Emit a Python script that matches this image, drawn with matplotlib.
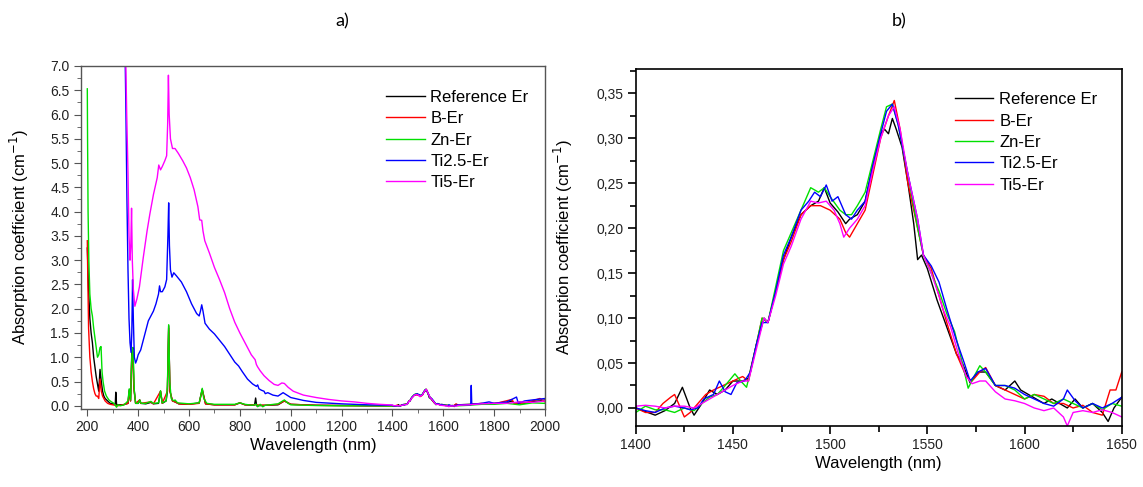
import numpy as np
import matplotlib
matplotlib.use("Agg")
import matplotlib.pyplot as plt
from matplotlib.ticker import MultipleLocator, FuncFormatter

plt.rcParams['font.family'] = ['Liberation Sans', 'DejaVu Sans']

labels = ["Reference Er", "B-Er", "Zn-Er", "Ti2.5-Er", "Ti5-Er"]
colors = ["#000000", "#ff0000", "#00e000", "#0000ff", "#ff00ff"]

# ---- panel a) : 200-1400 nm part of the spectra ----
ref_uv_x = [200, 202, 205, 210, 215, 220, 225, 230, 235, 240, 245, 250, 255, 260, 265, 270, 280, 290,
            300, 310, 312, 315, 320, 340, 360, 365, 370, 375, 379, 383, 390, 400, 406, 410, 430, 450,
            460, 480, 488, 495, 510, 515, 520, 525, 535, 545, 560, 600, 640, 652, 665, 700, 780, 800,
            820, 850, 858, 862, 866, 900, 950, 975, 1000, 1100, 1200, 1300, 1400]
ref_uv_y = [3.25, 2.9, 2.4, 1.8, 1.5, 1.3, 1.0, 0.8, 0.6, 0.45, 0.3, 0.75, 0.5, 0.3, 0.2, 0.15, 0.1, 0.05,
            0.04, 0.03, 0.28, 0.03, 0.02, 0.02, 0.05, 0.33, 0.1, 1.1, 1.2, 0.4, 0.05, 0.05, 0.12, 0.05, 0.04, 0.07,
            0.04, 0.05, 0.3, 0.05, 0.1, 0.3, 1.65, 0.3, 0.1, 0.08, 0.04, 0.03, 0.06, 0.34, 0.04, 0.02, 0.02, 0.06,
            0.02, 0.01, 0.02, 0.16, 0.0, 0.01, 0.02, 0.1, 0.03, 0.01, 0.005, 0.0, 0.0]

b_uv_x = [200, 202, 205, 210, 215, 220, 225, 230, 235, 240, 245, 250, 255, 260, 270, 280, 290, 300, 320,
          340, 360, 365, 370, 375, 379, 383, 390, 406, 410, 450, 460, 488, 495, 515, 520, 525, 535, 545,
          560, 600, 640, 652, 665, 700, 780, 800, 820, 860, 900, 950, 975, 1000, 1100, 1200, 1300, 1400]
b_uv_y = [3.4, 2.6, 1.6, 1.0, 0.7, 0.5, 0.35, 0.25, 0.2, 0.2, 0.15, 0.55, 0.3, 0.2, 0.1, 0.05, 0.03, 0.02, 0.0,
          0.02, 0.05, 0.3, 0.1, 1.0, 1.1, 0.35, 0.05, 0.12, 0.05, 0.08, 0.04, 0.3, 0.05, 0.3, 1.6, 0.3, 0.1, 0.08,
          0.04, 0.03, 0.05, 0.33, 0.04, 0.02, 0.02, 0.06, 0.02, 0.02, 0.01, 0.03, 0.1, 0.03, 0.01, 0.005, 0.0, 0.0]

zn_uv_x = [200, 201, 203, 206, 210, 215, 220, 225, 230, 235, 240, 245, 250, 254, 258, 262, 268, 275, 285,
           295, 305, 315, 320, 330, 345, 360, 365, 370, 375, 378, 381, 385, 390, 400, 406, 412, 430, 450,
           460, 480, 488, 494, 510, 515, 520, 524, 530, 540, 545, 555, 600, 640, 646, 652, 658, 670, 700,
           780, 800, 820, 850, 865, 870, 880, 890, 900, 950, 975, 990, 1000, 1100, 1200, 1300, 1400]
zn_uv_y = [6.53, 5.5, 4.0, 3.0, 2.3, 2.0, 1.85, 1.6, 1.4, 1.2, 1.0, 1.05, 1.2, 1.22, 0.7, 0.5, 0.3, 0.2, 0.12,
           0.08, 0.05, -0.03, 0.02, 0.0, 0.02, 0.1, 0.35, 0.12, 1.0, 1.2, 1.0, 0.3, 0.05, 0.05, 0.12, 0.05, 0.05, 0.09,
           0.05, 0.06, 0.31, 0.06, 0.1, 0.4, 1.67, 0.5, 0.15, 0.1, 0.12, 0.06, 0.04, 0.06, 0.2, 0.36, 0.15, 0.05, 0.03,
           0.03, 0.06, 0.03, 0.01, 0.03, -0.02, 0.03, -0.02, 0.01, 0.04, 0.12, 0.05, 0.02, 0.005, 0.0, 0.0, -0.005]

ti25_uv_x = [340, 348, 352, 356, 360, 364, 368, 372, 375, 378, 381, 385, 390, 395, 400, 410, 420, 430, 440,
             450, 460, 470, 480, 484, 488, 495, 505, 512, 517, 520, 523, 527, 533, 540, 550, 570, 590, 610,
             630, 640, 645, 650, 655, 663, 680, 700, 720, 740, 760, 780, 795, 810, 830, 850, 865, 870, 875,
             885, 895, 900, 910, 930, 950, 970, 985, 1000, 1050, 1100, 1200, 1300, 1400]
ti25_uv_y = [9.0, 7.5, 6.0, 4.2, 2.8, 1.8, 1.3, 1.1, 1.5, 2.6, 1.8, 1.0, 0.88, 0.95, 1.05, 1.15, 1.35, 1.55, 1.75,
             1.85, 1.95, 2.1, 2.3, 2.47, 2.35, 2.35, 2.45, 2.6, 3.5, 4.18, 3.3, 2.8, 2.65, 2.74, 2.68, 2.55, 2.35, 2.1,
             1.9, 1.85, 1.95, 2.08, 1.95, 1.7, 1.58, 1.48, 1.35, 1.22, 1.06, 0.9, 0.82, 0.7, 0.55, 0.45, 0.4, 0.43, 0.35,
             0.32, 0.3, 0.25, 0.27, 0.22, 0.2, 0.27, 0.22, 0.17, 0.11, 0.07, 0.04, 0.02, 0.01]

ti5_uv_x = [340, 350, 355, 360, 364, 368, 371, 374, 377, 381, 387, 395, 405, 420, 435, 446, 460, 475, 481,
            488, 495, 505, 512, 516, 519, 522, 527, 535, 545, 558, 575, 590, 605, 620, 635, 642, 650, 655,
            662, 680, 700, 720, 740, 760, 780, 800, 825, 845, 860, 865, 870, 880, 895, 915, 935, 950, 965,
            975, 990, 1010, 1050, 1100, 1150, 1200, 1250, 1300, 1350, 1400]
ti5_uv_y = [9.0, 7.5, 6.0, 4.8, 3.5, 3.0, 3.3, 4.07, 3.0, 2.4, 2.05, 2.2, 2.45, 3.05, 3.6, 3.95, 4.35, 4.7, 4.96,
            4.86, 4.93, 5.05, 5.15, 5.8, 6.81, 6.0, 5.5, 5.3, 5.3, 5.2, 5.05, 4.9, 4.7, 4.45, 4.1, 3.83, 3.82, 3.6,
            3.4, 3.15, 2.85, 2.6, 2.33, 2.0, 1.72, 1.5, 1.25, 1.05, 0.95, 0.85, 0.8, 0.72, 0.62, 0.52, 0.44, 0.42, 0.47,
            0.46, 0.38, 0.3, 0.22, 0.17, 0.13, 0.1, 0.08, 0.05, 0.03, 0.015]

# ---- 1650-2000 nm tail (panel a) ----
ref_ir_x = [1660, 1700, 1750, 1800, 1850, 1870, 1880, 1900, 1920, 1950, 1980, 2000]
ref_ir_y = [0.02, 0.03, 0.04, 0.05, 0.06, 0.1, 0.05, 0.08, 0.05, 0.09, 0.1, 0.12]
b_ir_x = [1660, 1700, 1750, 1780, 1800, 1870, 1880, 1920, 1950, 1980, 2000]
b_ir_y = [0.01, 0.02, 0.05, 0.03, 0.04, 0.13, 0.04, 0.06, 0.1, 0.15, 0.08]
zn_ir_x = [1660, 1700, 1750, 1800, 1850, 1900, 1950, 2000]
zn_ir_y = [0.0, 0.01, 0.03, 0.03, 0.05, 0.02, 0.06, 0.05]
ti25_ir_x = [1660, 1700, 1708, 1710, 1712, 1750, 1780, 1800, 1850, 1888, 1895, 1920, 1950, 2000]
ti25_ir_y = [0.02, 0.02, 0.02, 0.42, 0.03, 0.05, 0.08, 0.05, 0.08, 0.18, 0.05, 0.1, 0.12, 0.15]
ti5_ir_x = [1660, 1700, 1750, 1800, 1850, 1900, 1950, 2000]
ti5_ir_y = [0.01, 0.02, 0.04, 0.05, 0.05, 0.08, 0.07, 0.1]

# ---- panel b) : Er band 1400-1650 nm ----
ref_x = [1400, 1405, 1410, 1415, 1420, 1424, 1428, 1430, 1434, 1438, 1442, 1446, 1450, 1455, 1458, 1462,
         1466, 1468, 1472, 1476, 1480, 1485, 1490, 1494, 1497, 1500, 1504, 1508, 1510, 1514, 1518, 1522,
         1526, 1528, 1530, 1532, 1534, 1537, 1540, 1543, 1545, 1547, 1550, 1555, 1560, 1565, 1568, 1572,
         1576, 1580, 1585, 1590, 1595, 1598, 1602, 1606, 1610, 1614, 1618, 1622, 1626, 1630, 1635, 1640,
         1643, 1646, 1650]
ref_y = [0.0, -0.004, -0.008, -0.003, 0.005, 0.023, 0.0, -0.008, 0.005, 0.02, 0.015, 0.02, 0.03, 0.03, 0.033, 0.07,
         0.10, 0.095, 0.13, 0.165, 0.19, 0.215, 0.225, 0.23, 0.245, 0.228, 0.218, 0.205, 0.21, 0.215, 0.23, 0.27,
         0.305, 0.31, 0.305, 0.322, 0.31, 0.29, 0.25, 0.205, 0.165, 0.17, 0.155, 0.12, 0.09, 0.06, 0.05, 0.028,
         0.04, 0.04, 0.025, 0.02, 0.03, 0.02, 0.015, 0.01, 0.005, 0.01, 0.005, 0.0, 0.01, 0.0, 0.005, -0.005,
         -0.015, 0.0, 0.012]

b_x = [1400, 1405, 1410, 1414, 1418, 1420, 1422, 1425, 1428, 1432, 1436, 1440, 1445, 1450, 1455, 1458, 1462,
       1465, 1468, 1472, 1476, 1480, 1485, 1490, 1495, 1500, 1505, 1508, 1510, 1514, 1518, 1522, 1526, 1530,
       1533, 1536, 1540, 1545, 1548, 1552, 1556, 1560, 1565, 1570, 1573, 1577, 1580, 1585, 1590, 1595, 1600,
       1605, 1610, 1615, 1620, 1625, 1630, 1635, 1640, 1644, 1647, 1650]
b_y = [0.0, -0.005, -0.005, 0.005, 0.012, 0.015, 0.005, -0.01, -0.005, 0.005, 0.015, 0.02, 0.025, 0.03, 0.035, 0.03, 0.07,
       0.10, 0.095, 0.13, 0.165, 0.185, 0.215, 0.225, 0.225, 0.22, 0.21, 0.195, 0.19, 0.205, 0.22, 0.26, 0.30, 0.325,
       0.342, 0.31, 0.25, 0.20, 0.17, 0.155, 0.125, 0.095, 0.06, 0.035, 0.03, 0.04, 0.045, 0.025, 0.02, 0.015, 0.01,
       0.015, 0.013, 0.005, 0.005, 0.0, 0.003, -0.005, -0.008, 0.02, 0.02, 0.04]

zn_x = [1400, 1405, 1410, 1415, 1420, 1425, 1430, 1434, 1438, 1442, 1446, 1451, 1454, 1457, 1460, 1465, 1468,
        1472, 1476, 1480, 1485, 1490, 1494, 1497, 1500, 1505, 1508, 1511, 1514, 1518, 1522, 1526, 1529, 1532,
        1535, 1540, 1545, 1548, 1552, 1556, 1560, 1564, 1568, 1571, 1574, 1577, 1580, 1585, 1590, 1595, 1600,
        1605, 1610, 1615, 1620, 1625, 1630, 1635, 1640, 1645, 1650]
zn_y = [-0.005, 0.002, -0.002, -0.002, -0.005, 0.0, -0.003, 0.005, 0.012, 0.015, 0.025, 0.038, 0.03, 0.023, 0.05, 0.10, 0.095,
        0.135, 0.175, 0.195, 0.22, 0.245, 0.24, 0.245, 0.235, 0.22, 0.215, 0.215, 0.225, 0.24, 0.275, 0.31, 0.335, 0.338,
        0.315, 0.26, 0.2, 0.17, 0.15, 0.13, 0.105, 0.085, 0.05, 0.022, 0.035, 0.047, 0.04, 0.025, 0.025, 0.02, 0.01,
        0.015, 0.01, 0.005, 0.01, 0.005, 0.0, 0.005, -0.002, 0.005, 0.002]

ti25_x = [1400, 1405, 1410, 1415, 1420, 1425, 1428, 1432, 1435, 1440, 1443, 1446, 1449, 1452, 1456, 1459, 1462,
          1465, 1468, 1472, 1476, 1480, 1485, 1489, 1492, 1495, 1498, 1501, 1504, 1508, 1511, 1514, 1518, 1522,
          1526, 1529, 1532, 1535, 1540, 1545, 1548, 1552, 1556, 1560, 1565, 1569, 1572, 1576, 1580, 1585, 1590,
          1595, 1600, 1605, 1610, 1615, 1620, 1622, 1626, 1630, 1635, 1640, 1645, 1650]
ti25_y = [0.0, -0.003, -0.005, 0.0, 0.002, 0.0, -0.002, 0.0, 0.01, 0.015, 0.03, 0.018, 0.015, 0.028, 0.03, 0.04, 0.07,
          0.095, 0.095, 0.13, 0.17, 0.19, 0.22, 0.23, 0.24, 0.235, 0.248, 0.23, 0.235, 0.215, 0.21, 0.22, 0.23, 0.27,
          0.305, 0.33, 0.338, 0.315, 0.26, 0.21, 0.17, 0.158, 0.14, 0.11, 0.075, 0.05, 0.03, 0.04, 0.044, 0.025, 0.025,
          0.022, 0.015, 0.01, 0.005, 0.002, 0.01, 0.02, 0.008, 0.0, 0.005, 0.0, 0.005, 0.012]

ti5_x = [1400, 1405, 1410, 1415, 1420, 1425, 1430, 1434, 1438, 1442, 1446, 1450, 1455, 1458, 1462, 1466, 1468,
         1472, 1476, 1480, 1485, 1490, 1494, 1498, 1502, 1505, 1507, 1510, 1514, 1518, 1522, 1526, 1530, 1533,
         1536, 1540, 1545, 1548, 1552, 1556, 1558, 1562, 1566, 1570, 1573, 1577, 1580, 1585, 1590, 1595, 1600,
         1605, 1610, 1615, 1620, 1622, 1625, 1630, 1635, 1640, 1645, 1650]
ti5_y = [0.002, 0.003, 0.002, 0.0, 0.002, 0.002, 0.0, 0.005, 0.01, 0.015, 0.02, 0.025, 0.03, 0.03, 0.065, 0.10, 0.095,
         0.125, 0.16, 0.18, 0.21, 0.23, 0.228, 0.23, 0.22, 0.205, 0.19, 0.2, 0.21, 0.225, 0.265, 0.30, 0.325, 0.335,
         0.31, 0.26, 0.21, 0.17, 0.15, 0.125, 0.11, 0.09, 0.06, 0.035, 0.027, 0.03, 0.03, 0.018, 0.01, 0.008, 0.005,
         0.0, -0.003, 0.0, -0.01, -0.02, -0.005, -0.003, -0.005, -0.002, -0.005, -0.01]

uv_x = [ref_uv_x, b_uv_x, zn_uv_x, ti25_uv_x, ti5_uv_x]
uv_y = [ref_uv_y, b_uv_y, zn_uv_y, ti25_uv_y, ti5_uv_y]
band_x = [ref_x, b_x, zn_x, ti25_x, ti5_x]
band_y = [ref_y, b_y, zn_y, ti25_y, ti5_y]
ir_x = [ref_ir_x, b_ir_x, zn_ir_x, ti25_ir_x, ti5_ir_x]
ir_y = [ref_ir_y, b_ir_y, zn_ir_y, ti25_ir_y, ti5_ir_y]

fig = plt.figure(figsize=(11.43, 4.87), dpi=100)
ax1 = fig.add_axes([0.0706, 0.1608, 0.4062, 0.7037])
ax2 = fig.add_axes([0.5562, 0.1259, 0.4252, 0.7324])

for i in range(5):
    x = np.concatenate([uv_x[i], band_x[i][1:], ir_x[i]])
    y = np.concatenate([uv_y[i], band_y[i][1:], ir_y[i]])
    ax1.plot(x, y, color=colors[i], lw=1.0, label=labels[i])
    ax2.plot(band_x[i], band_y[i], color=colors[i], lw=1.0, label=labels[i])

leg_kw = dict(loc="upper left", frameon=False, fontsize=12, borderpad=0, borderaxespad=0,
              handlelength=2.3, handletextpad=0.35, labelspacing=0.38)

# panel a axes
ax1.set_xlim(174, 2000)
ax1.set_ylim(-0.06, 7.0)
ax1.xaxis.set_major_locator(MultipleLocator(200))
ax1.xaxis.set_minor_locator(MultipleLocator(100))
ax1.yaxis.set_major_locator(MultipleLocator(0.5))
ax1.yaxis.set_minor_locator(MultipleLocator(0.25))
ax1.yaxis.set_major_formatter(FuncFormatter(lambda v, p: f"{v:.1f}"))
for s in ax1.spines.values():
    s.set_color("#555555")
    s.set_linewidth(1.0)
ax1.tick_params(which="both", direction="out", colors="#555555", labelcolor="#222222", labelsize=10)
ax1.tick_params(which="major", length=5, pad=3)
ax1.tick_params(which="minor", length=3)
ax1.set_xlabel("Wavelength (nm)", fontsize=12, labelpad=3)
ax1.set_ylabel("Absorption coefficient (cm$^{-1}$)", fontsize=12)
ax1.yaxis.set_label_coords(-0.107, 0.5)
ax1.legend(bbox_to_anchor=(0.658, 0.93), **leg_kw)

# panel b axes
ax2.set_xlim(1400, 1650)
ax2.set_ylim(-0.0197, 0.377)
ax2.xaxis.set_major_locator(MultipleLocator(50))
ax2.xaxis.set_minor_locator(MultipleLocator(25))
ax2.yaxis.set_major_locator(MultipleLocator(0.05))
ax2.yaxis.set_minor_locator(MultipleLocator(0.025))
ax2.yaxis.set_major_formatter(FuncFormatter(lambda v, p: f"{v:.2f}".replace(".", ",")))
for s in ax2.spines.values():
    s.set_color("#000000")
    s.set_linewidth(1.2)
ax2.tick_params(which="both", direction="out", labelcolor="#222222", labelsize=10, width=1.2)
ax2.tick_params(which="major", length=6, pad=3)
ax2.tick_params(which="minor", length=4)
ax2.set_xlabel("Wavelength (nm)", fontsize=12, labelpad=3)
ax2.set_ylabel("Absorption coefficient (cm$^{-1}$)", fontsize=12)
ax2.yaxis.set_label_coords(-0.125, 0.5)
ax2.legend(bbox_to_anchor=(0.657, 0.935), **leg_kw)

fig.text(0.299, 0.957, "a)", fontsize=13, family=["Lato", "DejaVu Sans"], ha="center", va="center")
fig.text(0.787, 0.957, "b)", fontsize=13, family=["Lato", "DejaVu Sans"], ha="center", va="center")

fig.savefig("out.png", dpi=100)
